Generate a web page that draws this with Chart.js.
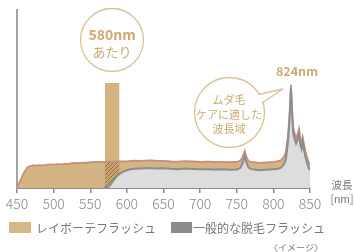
<!DOCTYPE html>
<html><head><meta charset="utf-8">
<script src="https://cdn.jsdelivr.net/npm/chart.js@4/dist/chart.umd.min.js"></script>
<style>
html,body{margin:0;padding:0;background:#fff;}
#wrap{position:relative;width:355px;height:252px;overflow:hidden;font-family:"Noto Sans CJK JP","Noto Sans",sans-serif;}
canvas{position:absolute;left:0;top:0;}
.t{position:absolute;transform:translate(-50%,-50%);white-space:nowrap;line-height:1;}
.tan{color:#d0a972;}
.lg{position:absolute;white-space:nowrap;line-height:1;color:#777;font-size:12px;transform:translateY(-50%);}
svg{position:absolute;left:0;top:0;}
</style></head>
<body><div id="wrap">
<canvas id="c" width="355" height="252"></canvas>
<svg width="355" height="252">
  <circle cx="112" cy="40" r="31.5" fill="none" stroke="#dcc196" stroke-width="1.3"/>
  <circle cx="229.5" cy="112.5" r="35" fill="#fff" stroke="#dcc196" stroke-width="1.3"/>
  <polygon points="252,96 283,89 256,106" fill="#fff"/>
  <polyline points="258.5,94.5 283,89 262,103" fill="none" stroke="#dcc196" stroke-width="1.3"/>
</svg>
<div class="t tan" style="left:112px;top:34px;font-size:14px;font-weight:bold;">580nm</div>
<div class="t tan" style="left:112px;top:51px;font-size:13px;">あたり</div>
<div class="t tan" style="left:297px;top:71px;font-size:12.5px;font-weight:bold;">824nm</div>
<div class="t tan" style="left:229px;top:99px;font-size:11px;">ムダ毛</div>
<div class="t tan" style="left:229px;top:114px;font-size:11px;">ケアに適した</div>
<div class="t tan" style="left:229px;top:128px;font-size:11px;">波長域</div>
<div class="t" style="left:342px;top:185px;font-size:10.5px;color:#777;">波長</div>
<div class="t" style="left:342px;top:199px;font-size:10.5px;color:#777;">[nm]</div>
<div style="position:absolute;left:9px;top:222px;width:22px;height:11px;background:#d7b787;"></div>
<div class="lg" style="left:36px;top:228px;">レイボーテフラッシュ</div>
<div style="position:absolute;left:171px;top:222px;width:21px;height:11px;background:#8b8b8b;"></div>
<div class="lg" style="left:193px;top:228px;">一般的な脱毛フラッシュ</div>
<div class="t" style="left:296px;top:247px;font-size:9px;color:#777;">〈イメージ〉</div>
</div>
<script>
// Wavelength ticks (nm)
const xTicks = [450, 500, 550, 600, 650, 700, 750, 800, 850];

// レイボーテフラッシュ spectrum (relative intensity)
const rayboteNm = [450,452,456,460,464,467,470,473,476,480,485,490,495,500,505,510,515,520,525,530,535,540,545,550,560,570,580,590,600,610,620,630,640,650,660,670,680,690,700,710,720,730,740,750,755,758,761,763,766,770,780,790,800,805,810,814,817,820,822,824,825.5,827,829,831,833,835,837,838.5,840,842,844,846,848,850];
const rayboteVal = [0,2,5.5,9,11.5,12.3,12.4,12.8,12.6,12.9,12.7,13.0,13.2,13.1,13.4,13.3,13.6,13.5,13.9,14.1,13.9,14.3,14.2,14.5,14.6,14.7,14.8,14.9,15.0,15.3,15.2,15.5,15.3,15.2,14.9,14.8,15.1,14.9,14.7,14.8,14.6,14.7,14.5,14.6,15.4,17.6,20.8,17.6,15.2,14.6,14.1,14.4,14.7,14.9,15.5,17.2,20.2,29.6,40.6,58,44.6,34.2,30.7,28.2,30.2,33.2,27.2,25.2,28.6,24.2,20.2,17.2,14.7,13.2];

// 一般的な脱毛フラッシュ spectrum (relative intensity)
const generalNm = [568,574,578,582,586,590,595,600,605,610,620,630,640,650,660,670,680,690,700,710,720,730,740,750,755,758,761,763,766,770,780,790,800,805,810,814,817,820,822,824,825.5,827,829,831,833,835,837,838.5,840,842,844,846,848,850];
const generalVal = [0,0.3,2,4.5,6.5,7.9,9.2,10.0,10.5,10.8,11.0,11.2,11.0,11.1,10.8,10.6,10.9,10.7,10.5,10.6,10.4,10.5,10.3,10.4,11.2,14,18,14.5,11.5,10.6,10.0,10.3,10.6,10.7,11.3,13,16,26,38,56,42,31,27.5,25,27,30.5,24,22,26,21,17,14,11.5,10];

// 580nm あたり highlighted band
const bandNm = [570, 590];
const bandVal = 59;

const toPts = (xs, ys) => xs.map((x, i) => ({x, y: ys[i]}));
const raybotePts = toPts(rayboteNm, rayboteVal);
const generalPts = toPts(generalNm, generalVal);
const bandPts = [{x:bandNm[0],y:0},{x:bandNm[0],y:bandVal},{x:bandNm[1],y:bandVal},{x:bandNm[1],y:0}];
const hatchPts = [{x:bandNm[0],y:0}]
  .concat(raybotePts.filter(p => p.x >= bandNm[0] && p.x <= bandNm[1]))
  .concat([{x:bandNm[1],y:0}]);

// hatch pattern
const pc = document.createElement('canvas');
pc.width = 4; pc.height = 4;
const pctx = pc.getContext('2d');
pctx.fillStyle = '#c9a46e'; pctx.fillRect(0,0,4,4);
pctx.strokeStyle = '#8f6d42'; pctx.lineWidth = 1;
pctx.beginPath(); pctx.moveTo(-1,5); pctx.lineTo(5,-1); pctx.stroke();
pctx.beginPath(); pctx.moveTo(-1,1); pctx.lineTo(1,-1); pctx.stroke();
pctx.beginPath(); pctx.moveTo(3,5); pctx.lineTo(5,3); pctx.stroke();
const hatch = document.getElementById('c').getContext('2d').createPattern(pc, 'repeat');

const gold = '#d5b483';
new Chart(document.getElementById('c'), {
  type: 'line',
  data: {
    datasets: [
      {label:'gray', data: generalPts, fill:'origin', backgroundColor:'#dcdddc', borderColor:'#8d8d8d', borderWidth:2, order:1},
      {label:'goldLine', data: raybotePts, fill:false, borderColor:'#c4907f', borderWidth:1.8, order:2},
      {label:'hatch', data: hatchPts, fill:'origin', backgroundColor:hatch, borderWidth:0, order:3},
      {label:'band', data: bandPts, fill:'origin', backgroundColor:gold, borderWidth:0, order:4},
      {label:'goldFill', data: raybotePts, fill:'origin', backgroundColor:gold, borderWidth:0, order:5}
    ]
  },
  options: {
    responsive:false, animation:false, devicePixelRatio:1,
    layout:{padding:{left:17,right:45,top:10,bottom:0}},
    elements:{point:{radius:0}, line:{tension:0}},
    plugins:{legend:{display:false}, tooltip:{enabled:false}},
    scales:{
      x:{type:'linear', min:450, max:850,
        afterBuildTicks: s => { s.ticks = xTicks.map(v => ({value:v})); },
        afterFit: s => { s.height = 64; },
        grid:{display:true, drawOnChartArea:false, tickLength:5, color:'#8d8d8d', lineWidth:1.5},
        border:{display:true, color:'#8d8d8d', width:2},
        ticks:{autoSkip:false, maxRotation:0, padding:2, color:'#8a8a8a', font:{family:'"Noto Sans CJK JP"', size:14, weight:300}}
      },
      y:{min:0, max:100,
        afterFit: s => { s.width = 0; },
        grid:{display:false},
        border:{display:true, color:'#a3a3a3', width:2},
        ticks:{display:false}
      }
    }
  }
});
</script>
</body></html>
